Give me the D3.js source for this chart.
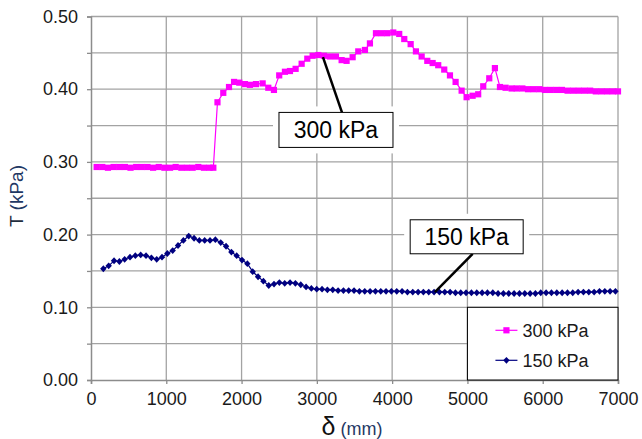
<!DOCTYPE html>
<html>
<head>
<meta charset="utf-8">
<script src="https://cdn.jsdelivr.net/npm/d3@7"></script>
<style>
  body { margin: 0; background: #fff; }
  svg { display: block; font-family: "Liberation Sans", Arial, sans-serif; }
  .tick text { fill: #1a1a1a; font-size: 18px; }
</style>
</head>
<body>
<svg id="chart" width="642" height="439"></svg>
<script>
// deflection (mm) and shear stress T (kPa) for the two normal pressures
const delta300 = [75,150,225,300,375,450,525,600,675,750,825,900,975,1050,1125,1200,1275,1350,1425,1500,1575,1625,
  1680,1757,1833,1900,1970,2045,2111,2191,2280,2355,2430,2500,2576,2643,2718,2798,2873,2944,3019,3094,
  3174,3254,3329,3395,3475,3550,3639,3705,3785,3861,3935,4015,4094,4161,4246,4316,4392,4467,4538,4612,
  4692,4768,4843,4923,4989,5069,5143,5210,5290,5365,5432,5507,5587,5654,
  5730,5805,5880,5955,6030,6105,6180,6255,6330,6405,6480,6555,6630,6705,6780,6855,6930,7000];
const t300 = [0.293,0.293,0.292,0.293,0.293,0.293,0.292,0.293,0.293,0.293,0.292,0.293,0.292,0.292,0.293,0.292,0.292,0.292,0.293,0.292,0.292,0.292,
  0.382,0.395,0.403,0.410,0.409,0.407,0.406,0.407,0.408,0.402,0.399,0.419,0.424,0.425,0.428,0.435,0.442,0.446,0.447,0.446,
  0.445,0.445,0.440,0.439,0.444,0.452,0.454,0.463,0.477,0.477,0.477,0.478,0.476,0.469,0.462,0.452,0.445,0.439,0.436,0.433,
  0.427,0.419,0.410,0.398,0.389,0.391,0.393,0.404,0.415,0.429,0.403,0.402,0.401,0.401,
  0.401,0.400,0.400,0.400,0.399,0.399,0.399,0.399,0.398,0.398,0.398,0.398,0.398,0.397,0.397,0.397,0.397,0.397];

const delta150 = [164,235,306,377,447,518,589,660,731,802,873,943,1014,1085,1156,1227,1298,1369,1439,1510,
  1581,1652,1723,1794,1865,1935,2006,2077,2148,2219,2290,2361,2431,2502,2573,2644,
  2715,2786,2857,2927,2998,3069,3140,3211,3282,3353,3423,3494,3565,3636,3707,3778,3849,3919,3990,4061,
  4132,4203,4274,4345,4415,4486,4557,4628,4699,4770,4841,4911,4982,5053,5124,5195,5266,5337,5407,5478,
  5549,5620,5691,5762,5833,5903,5974,6045,6116,6187,6258,6329,6399,6470,6541,6612,6683,6754,6825,6895,6966];
const t150 = [0.153,0.157,0.164,0.163,0.166,0.169,0.171,0.172,0.171,0.168,0.166,0.169,0.174,0.178,0.185,0.192,0.198,0.195,0.192,0.192,
  0.192,0.193,0.189,0.184,0.176,0.171,0.165,0.160,0.149,0.142,0.136,0.130,0.132,0.134,0.133,0.134,
  0.133,0.131,0.128,0.126,0.125,0.125,0.124,0.124,0.123,0.123,0.123,0.123,0.122,0.122,0.122,0.122,0.122,0.122,0.122,0.122,
  0.122,0.121,0.121,0.121,0.121,0.121,0.121,0.121,0.121,0.121,0.120,0.120,0.120,0.120,0.120,0.120,0.120,0.120,0.119,0.119,
  0.119,0.119,0.119,0.119,0.119,0.119,0.120,0.120,0.120,0.120,0.120,0.120,0.120,0.121,0.121,0.121,0.121,0.122,0.122,0.122,0.122];

const xTicks = [0,1000,2000,3000,4000,5000,6000,7000];
const yTicks = [0,0.1,0.2,0.3,0.4,0.5];
const yGrid = [0.05,0.1,0.15,0.2,0.25,0.3,0.35,0.4,0.45,0.5];
const seriesNames = ["300 kPa", "150 kPa"];
const seriesColors = ["#ff00ff", "#000080"];

const svg = d3.select("#chart");
const x = d3.scaleLinear().domain([0, 7000]).range([91, 618]);
const y = d3.scaleLinear().domain([0, 0.5]).range([380, 16.5]);

// gridlines
svg.append("g").selectAll("line").data(yGrid).join("line")
  .attr("x1", x(0)).attr("x2", x(7000))
  .attr("y1", d => y(d)).attr("y2", d => y(d))
  .attr("stroke", "#a3a3a3").attr("stroke-width", 1.3);
svg.append("g").selectAll("line").data(xTicks.slice(1)).join("line")
  .attr("x1", d => x(d)).attr("x2", d => x(d))
  .attr("y1", y(0)).attr("y2", y(0.5))
  .attr("stroke", "#a3a3a3").attr("stroke-width", 1.3);

// axes
const xAxis = svg.append("g").attr("transform", `translate(0,${y(0)})`)
  .call(d3.axisBottom(x).tickValues(xTicks).tickFormat(d3.format("d")).tickSize(4).tickPadding(8));
const yAxis = svg.append("g").attr("transform", `translate(${x(0)},0)`)
  .call(d3.axisLeft(y).tickValues(yGrid.concat([0])).tickSize(4).tickPadding(9)
    .tickFormat(d => yTicks.some(t => Math.abs(t - d) < 1e-9) ? d3.format(".2f")(d) : ""));
[xAxis, yAxis].forEach(a => {
  a.select(".domain").attr("stroke", "#8c8c8c").attr("stroke-width", 1.5);
  a.selectAll(".tick line").attr("stroke", "#8c8c8c").attr("stroke-width", 1.3);
});

// series
const line = d3.line().x(d => x(d[0])).y(d => y(d[1]));
const s300 = d3.zip(delta300, t300);
const s150 = d3.zip(delta150, t150);
const sq = 6.2;

svg.append("path").datum(s300).attr("d", line)
  .attr("fill", "none").attr("stroke", seriesColors[0]).attr("stroke-width", 1.2);
svg.append("g").selectAll("rect").data(s300).join("rect")
  .attr("x", d => x(d[0]) - sq / 2).attr("y", d => y(d[1]) - sq / 2)
  .attr("width", sq).attr("height", sq).attr("fill", seriesColors[0]);

// small near-square diamond like the spreadsheet marker
const diamond = "M0,-3.4L3.2,0L0,3.4L-3.2,0Z";
svg.append("path").datum(s150).attr("d", line)
  .attr("fill", "none").attr("stroke", seriesColors[1]).attr("stroke-width", 1.2);
svg.append("g").selectAll("path").data(s150).join("path")
  .attr("d", diamond)
  .attr("transform", d => `translate(${x(d[0])},${y(d[1])})`)
  .attr("fill", seriesColors[1]);

// callout labels
function callout(text, cx, cy, target, boxW, boxH) {
  const px = x(cx), py = y(cy);
  const g = svg.append("g");
  const top = py - boxH / 2, bottom = py + boxH / 2;
  const fromY = y(target[1]) < py ? top : bottom;
  g.append("rect").attr("x", px - boxW / 2 - 6).attr("y", top - 6)
    .attr("width", boxW + 12).attr("height", boxH + 12).attr("fill", "#fff");
  g.append("line").attr("x1", px + (x(target[0]) < px ? 6 : 2)).attr("y1", fromY)
    .attr("x2", x(target[0])).attr("y2", y(target[1]))
    .attr("stroke", "#000").attr("stroke-width", 2.5);
  g.append("rect").attr("x", px - boxW / 2).attr("y", top)
    .attr("width", boxW).attr("height", boxH)
    .attr("fill", "#fff").attr("stroke", "#000").attr("stroke-width", 1);
  g.append("text").attr("x", px).attr("y", py + 8)
    .attr("text-anchor", "middle").attr("font-size", 23).attr("fill", "#000").text(text);
}
callout(seriesNames[0], 3254, 0.344, [3081, 0.444], 114, 35);
callout(seriesNames[1], 4990, 0.197, [4568, 0.121], 113, 34);

// legend
const lg = svg.append("g");
lg.append("rect").attr("x", x(5000)).attr("y", y(0.1))
  .attr("width", x(7000) - x(5000)).attr("height", y(0) - y(0.1))
  .attr("fill", "#fff").attr("stroke", "#000").attr("stroke-width", 1);
seriesNames.forEach((name, i) => {
  const ly = y(0.1) + 23 + i * 30;
  const lx = x(5000) + 28;
  lg.append("line").attr("x1", lx).attr("x2", lx + 22).attr("y1", ly).attr("y2", ly)
    .attr("stroke", seriesColors[i]).attr("stroke-width", 1.2);
  if (i === 0) {
    lg.append("rect").attr("x", lx + 11 - sq / 2).attr("y", ly - sq / 2).attr("width", sq).attr("height", sq)
      .attr("fill", seriesColors[i]);
  } else {
    lg.append("path").attr("d", diamond).attr("transform", `translate(${lx + 11},${ly})`)
      .attr("fill", seriesColors[i]);
  }
  lg.append("text").attr("x", lx + 27).attr("y", ly + 6.5)
    .attr("font-size", 18).attr("fill", "#1a1a1a").text(name);
});

// axis titles
const yt = svg.append("text").attr("transform", "translate(23,196) rotate(-90)")
  .attr("text-anchor", "middle").attr("font-size", 19);
yt.append("tspan").attr("fill", "#1f2d3d").text("T ");
yt.append("tspan").attr("fill", "#1f3864").text("(kPa)");

const xt = svg.append("text").attr("x", 352).attr("y", 435).attr("text-anchor", "middle");
xt.append("tspan").attr("font-size", 25).attr("fill", "#111").text("δ");
xt.append("tspan").attr("font-size", 18).attr("fill", "#1f3864").text(" (mm)");
</script>
</body>
</html>
